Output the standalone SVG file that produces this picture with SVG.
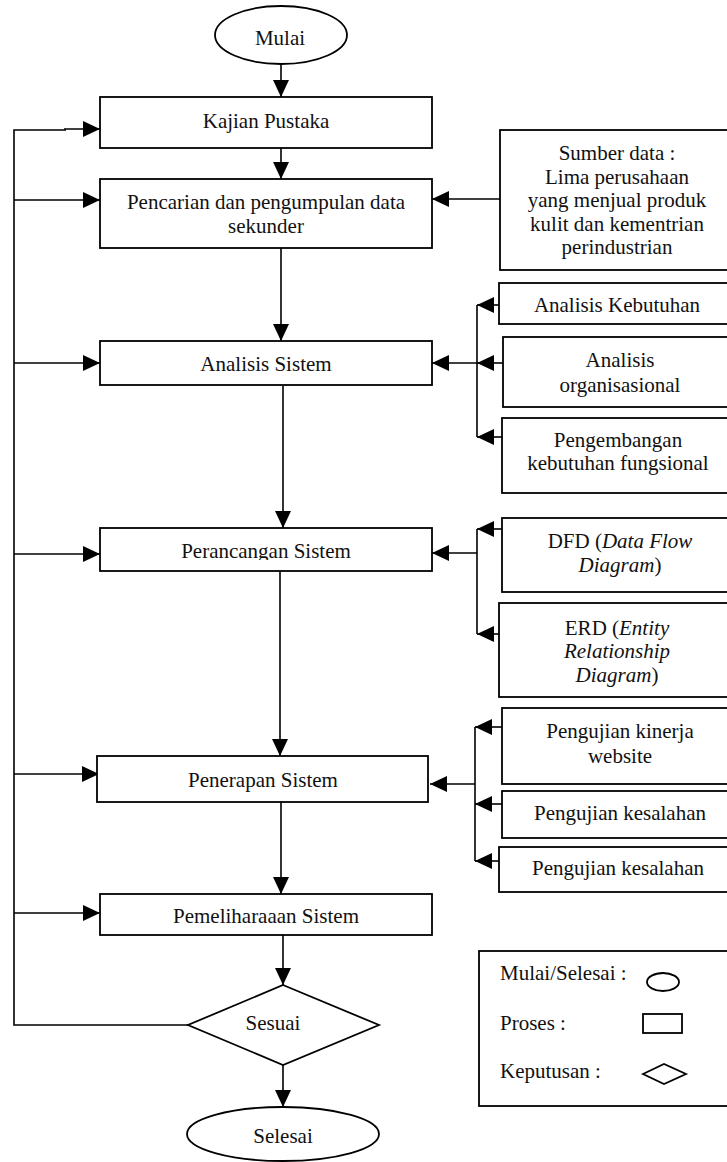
<svg xmlns="http://www.w3.org/2000/svg" width="727" height="1162" viewBox="0 0 727 1162">
<style>
.box{fill:#fff;stroke:#000;stroke-width:1.8}
.ln{fill:none;stroke:#000;stroke-width:1.6}
.t{font-family:"Liberation Serif","Times New Roman",serif;font-size:21px;fill:#111;text-anchor:middle}
.tl{font-family:"Liberation Serif","Times New Roman",serif;font-size:21px;fill:#111}
.arr{fill:none;stroke:#000;stroke-width:1.6;marker-end:url(#ah)}
</style>
<defs>
<marker id="ah" markerUnits="userSpaceOnUse" markerWidth="17" markerHeight="16" refX="17" refY="8" orient="auto">
<path d="M0,0 L17,8 L0,16 z" fill="#000"/>
</marker>
<clipPath id="clipPer"><rect x="90" y="520" width="350" height="40"/></clipPath>
</defs>
<g id="connectors">
<line class="arr" x1="281" y1="64" x2="281" y2="97"/>
<line class="arr" x1="281" y1="148" x2="281" y2="179"/>
<line class="arr" x1="281" y1="248" x2="281" y2="341"/>
<line class="arr" x1="283" y1="386" x2="283" y2="528"/>
<line class="arr" x1="280" y1="571" x2="280" y2="756"/>
<line class="arr" x1="281" y1="802" x2="281" y2="894"/>
<line class="arr" x1="283" y1="935" x2="283" y2="985"/>
<line class="arr" x1="283" y1="1065" x2="283" y2="1107"/>
<polyline class="ln" points="188,1025 14,1025 14,130 66,130"/>
<line class="arr" x1="64" y1="129" x2="100" y2="129"/>
<line class="arr" x1="14" y1="200" x2="100" y2="200"/>
<line class="arr" x1="14" y1="363" x2="100" y2="363"/>
<line class="arr" x1="14" y1="554" x2="100" y2="554"/>
<line class="arr" x1="14" y1="774" x2="99" y2="774"/>
<line class="arr" x1="14" y1="913" x2="100" y2="913"/>
<line class="arr" x1="500" y1="199" x2="432" y2="199"/>
<line class="ln" x1="477" y1="305" x2="477" y2="437"/>
<line class="arr" x1="499" y1="305" x2="477" y2="305"/>
<line class="arr" x1="503" y1="363" x2="477" y2="363"/>
<line class="arr" x1="502" y1="437" x2="477" y2="437"/>
<line class="arr" x1="477" y1="363" x2="432" y2="363"/>
<line class="ln" x1="477" y1="529" x2="477" y2="634"/>
<line class="arr" x1="502" y1="529" x2="477" y2="529"/>
<line class="arr" x1="499" y1="634" x2="477" y2="634"/>
<line class="arr" x1="477" y1="553" x2="432" y2="553"/>
<line class="ln" x1="475" y1="727" x2="475" y2="861"/>
<line class="arr" x1="502" y1="727" x2="475" y2="727"/>
<line class="arr" x1="502" y1="804" x2="475" y2="804"/>
<line class="arr" x1="499" y1="861" x2="475" y2="861"/>
<line class="arr" x1="475" y1="784" x2="430" y2="784"/>
</g>
<g id="mulai">
<ellipse class="box" cx="281" cy="35" rx="66" ry="29"/>
<text class="t" x="280" y="45">Mulai</text>
</g>
<g id="kajian">
<rect class="box" x="100" y="97" width="332" height="51"/>
<text class="t" x="266" y="128">Kajian Pustaka</text>
</g>
<g id="pencarian">
<rect class="box" x="100" y="179" width="332" height="69"/>
<text class="t" x="266" y="209">Pencarian dan pengumpulan data</text>
<text class="t" x="266" y="233">sekunder</text>
</g>
<g id="analisis">
<rect class="box" x="100" y="341" width="332" height="44"/>
<text class="t" x="266" y="371">Analisis Sistem</text>
</g>
<g id="perancangan">
<rect class="box" x="100" y="528" width="332" height="43"/>
<text class="t" x="266" y="558" clip-path="url(#clipPer)">Perancangan Sistem</text>
</g>
<g id="penerapan">
<rect class="box" x="97" y="756" width="331" height="46"/>
<text class="t" x="263" y="787">Penerapan Sistem</text>
</g>
<g id="pemeliharaan">
<rect class="box" x="100" y="894" width="332" height="41"/>
<text class="t" x="266" y="923">Pemeliharaaan Sistem</text>
</g>
<g id="sesuai">
<polygon class="box" points="283,985 379,1025 283,1065 188,1025"/>
<text class="t" x="273" y="1030">Sesuai</text>
</g>
<g id="selesai">
<ellipse class="box" cx="283" cy="1134" rx="96" ry="27"/>
<text class="t" x="283" y="1143">Selesai</text>
</g>
<g id="sumber">
<rect class="box" x="500" y="130" width="240" height="140"/>
<text class="t" x="617" y="160">Sumber data :</text>
<text class="t" x="617" y="183.5">Lima perusahaan</text>
<text class="t" x="617" y="207">yang menjual produk</text>
<text class="t" x="617" y="230.5">kulit dan kementrian</text>
<text class="t" x="617" y="254">perindustrian</text>
</g>
<g id="analisis-kebutuhan">
<rect class="box" x="499" y="283" width="240" height="41"/>
<text class="t" x="617" y="312">Analisis Kebutuhan</text>
</g>
<g id="analisis-organisasional">
<rect class="box" x="503" y="337" width="240" height="70"/>
<text class="t" x="620" y="367">Analisis</text>
<text class="t" x="620" y="392">organisasional</text>
</g>
<g id="pengembangan">
<rect class="box" x="502" y="418" width="240" height="75"/>
<text class="t" x="618" y="447">Pengembangan</text>
<text class="t" x="618" y="470">kebutuhan fungsional</text>
</g>
<g id="dfd">
<rect class="box" x="502" y="518" width="240" height="74"/>
<text class="t" x="620" y="548">DFD (<tspan font-style="italic">Data Flow</tspan></text>
<text class="t" x="620" y="572"><tspan font-style="italic">Diagram</tspan>)</text>
</g>
<g id="erd">
<rect class="box" x="499" y="603" width="240" height="94"/>
<text class="t" x="617" y="635">ERD (<tspan font-style="italic">Entity</tspan></text>
<text class="t" x="617" y="658" font-style="italic">Relationship</text>
<text class="t" x="617" y="682"><tspan font-style="italic">Diagram</tspan>)</text>
</g>
<g id="pengujian-kinerja">
<rect class="box" x="502" y="708" width="240" height="76"/>
<text class="t" x="620" y="738">Pengujian kinerja</text>
<text class="t" x="620" y="763">website</text>
</g>
<g id="pengujian-kesalahan-1">
<rect class="box" x="502" y="791" width="240" height="47"/>
<text class="t" x="620" y="820">Pengujian kesalahan</text>
</g>
<g id="pengujian-kesalahan-2">
<rect class="box" x="499" y="847" width="240" height="45"/>
<text class="t" x="618" y="875">Pengujian kesalahan</text>
</g>
<g id="legend">
<rect class="box" x="479" y="951" width="260" height="155"/>
<text class="tl" x="500" y="980">Mulai/Selesai :</text>
<ellipse class="box" cx="663" cy="982" rx="16" ry="9"/>
<text class="tl" x="500" y="1030">Proses :</text>
<rect class="box" x="643" y="1014" width="39" height="19"/>
<text class="tl" x="500" y="1078">Keputusan :</text>
<polygon class="box" points="643,1074 664,1064 686,1074 664,1084"/>
</g>
</svg>
